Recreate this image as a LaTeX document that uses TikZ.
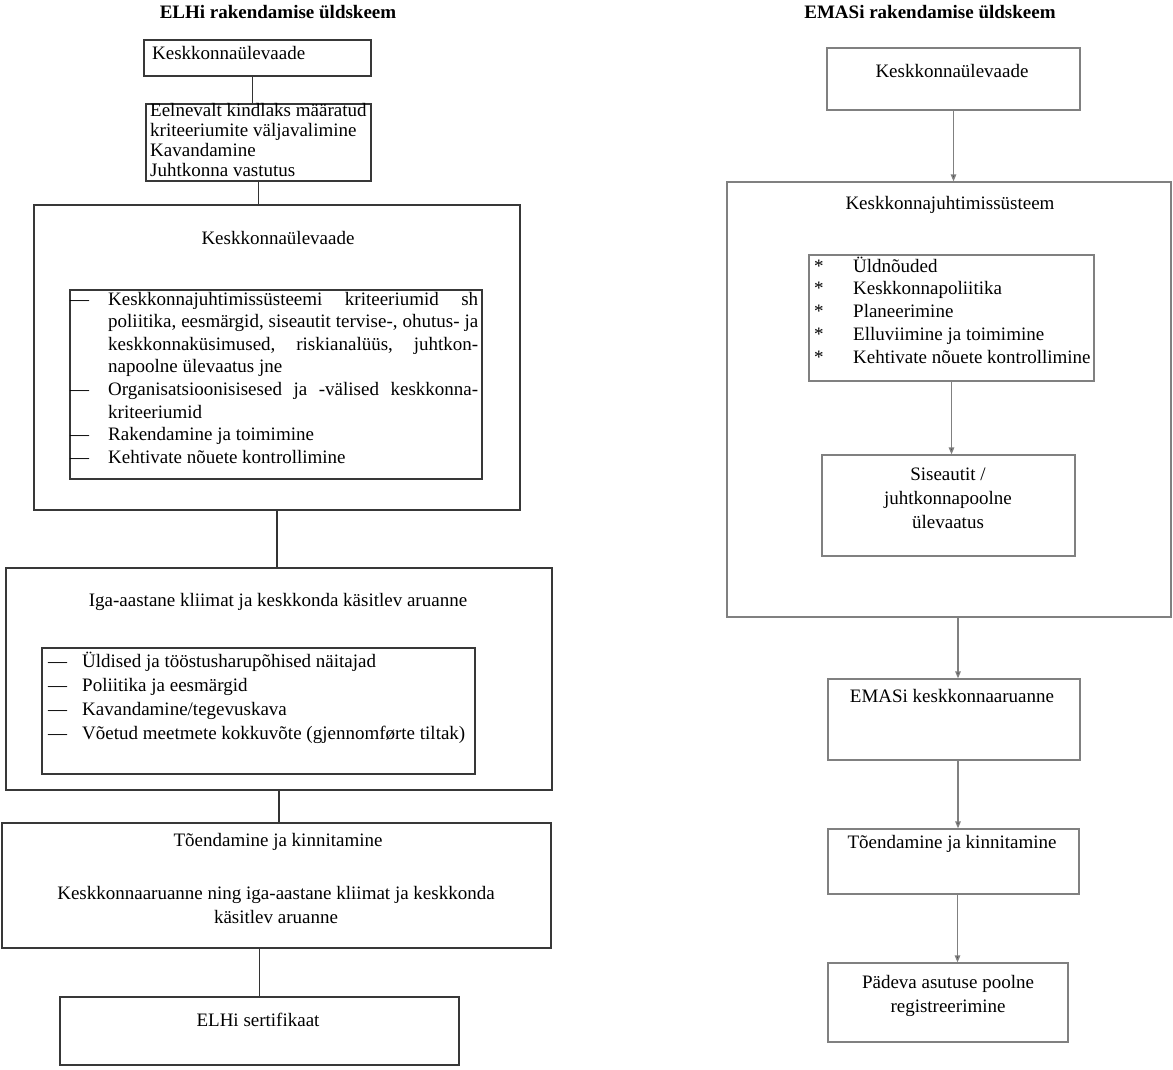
\documentclass[tikz,border=0pt]{standalone}
\usepackage{fontspec}
\setmainfont{Liberation Serif}
\usetikzlibrary{arrows.meta}
\begin{document}
\begin{tikzpicture}[x=1pt, y=-1pt,
    elbox/.style={draw=black!78, line width=1.3pt, inner sep=0pt},
    embox/.style={draw=black!50, line width=1.3pt, inner sep=0pt},
    ellink/.style={draw=black!80, line width=1.4pt},
    emlink/.style={draw=black!50, line width=1.3pt, -{Triangle[length=7pt, width=5.5pt, fill=black!70]}},
    ttl/.style={font=\fontsize{19}{22}\selectfont\bfseries, inner sep=0pt},
    lbl/.style={font=\fontsize{19}{22}\selectfont, inner sep=0pt, text height=13pt, text depth=4pt},
    mlbl/.style={font=\fontsize{19}{24}\selectfont, inner sep=0pt, align=center},
    lst/.style={inner sep=0pt, anchor=north west}
  ]
  \useasboundingbox (0,0) rectangle (1173,1069);
  \node[ttl] (elttl) at (278,12) {ELHi rakendamise üldskeem};
  \node[ttl] (emttl) at (930,12) {EMASi rakendamise üldskeem};
  \foreach \nm/\cx/\cy/\w/\h in {%
    elA/257.5/58/227/36,
    elB/258.5/142.5/225/77,
    elC/277/357.5/486/305,
    elCl/276/384.5/412/189,
    elD/279/679/546/222,
    elDl/258.5/711/433/126,
    elE/276.5/885.5/549/125,
    elF/259.5/1031/399/68%
  }{
    \node[elbox, minimum width=\w, minimum height=\h] (\nm) at (\cx,\cy) {};
  }
  \foreach \nm/\cx/\cy/\w/\h in {%
    emA/953.5/79/253/62,
    emB/949/399.5/444/435,
    emBl/951.5/318/285/126,
    emC/948.5/505.5/253/101,
    emD/954/719.5/252/81,
    emE/953.5/861.5/251/65,
    emF/948/1002.5/240/79%
  }{
    \node[embox, minimum width=\w, minimum height=\h] (\nm) at (\cx,\cy) {};
  }
  \node[lbl, anchor=west] (elAt) at (152,55) {Keskkonnaülevaade};
  \node[lst, anchor=west, font=\fontsize{19}{20}\selectfont, align=left] (elBt) at (150,140)
    {Eelnevalt kindlaks määratud\\kriteeriumite väljavalimine\\Kavandamine\\Juhtkonna vastutus};
  \node[lbl] (elCt) at (278,240) {Keskkonnaülevaade};
  \node[lst, font=\fontsize{19}{22.6}\selectfont] (elClt) at (70,289) {%
    \begin{tabular}{@{}p{38pt}@{}l@{}}
    — & \makebox[370pt][s]{Keskkonnajuhtimissüsteemi kriteeriumid sh}\\
      & \makebox[370pt][s]{poliitika, eesmärgid, siseautit tervise-, ohutus- ja}\\
      & \makebox[370pt][s]{keskkonnaküsimused, riskianalüüs, juhtkon-}\\
      & napoolne ülevaatus jne\\
    — & \makebox[370pt][s]{Organisatsioonisisesed ja -välised keskkonna-}\\
      & kriteeriumid\\
    — & Rakendamine ja toimimine\\
    — & Kehtivate nõuete kontrollimine
    \end{tabular}};
  \node[lbl] (elDt) at (278,602) {Iga-aastane kliimat ja keskkonda käsitlev aruanne};
  \node[lst, font=\fontsize{19}{24}\selectfont] (elDlt) at (48,650) {%
    \begin{tabular}{@{}p{34pt}@{}l@{}}
    — & Üldised ja tööstusharupõhised näitajad\\
    — & Poliitika ja eesmärgid\\
    — & Kavandamine/tegevuskava\\
    — & Võetud meetmete kokkuvõte (gjennomførte tiltak)
    \end{tabular}};
  \node[lbl] (elEt) at (278,842) {Tõendamine ja kinnitamine};
  \node[mlbl] (elEs) at (276,905) {Keskkonnaaruanne ning iga-aastane kliimat ja keskkonda\\käsitlev aruanne};
  \node[lbl] (elFt) at (258,1022) {ELHi sertifikaat};
  \node[lbl] (emAt) at (952,73) {Keskkonnaülevaade};
  \node[lbl] (emBt) at (950,205) {Keskkonnajuhtimissüsteem};
  \node[lst, font=\fontsize{19}{22.75}\selectfont] (emBlt) at (814,256) {%
    \begin{tabular}{@{}p{39pt}@{}l@{}}
    {*} & Üldnõuded\\
    {*} & Keskkonnapoliitika\\
    {*} & Planeerimine\\
    {*} & Elluviimine ja toimimine\\
    {*} & Kehtivate nõuete kontrollimine
    \end{tabular}};
  \node[mlbl] (emCt) at (948,498) {Siseautit /\\juhtkonnapoolne\\ülevaatus};
  \node[lbl] (emDt) at (952,698) {EMASi keskkonnaaruanne};
  \node[lbl] (emEt) at (952,844) {Tõendamine ja kinnitamine};
  \node[mlbl] (emFt) at (948,996) {Pädeva asutuse poolne\\registreerimine};
  \draw[ellink] ([xshift=-5]elA.south) -- ([xshift=-5]elA.south |- elB.north);
  \draw[ellink] (elB.south) -- (elB.south |- elC.north);
  \draw[ellink] (elC.south) -- (elC.south |- elD.north);
  \draw[ellink] (elD.south) -- (elD.south |- elE.north);
  \draw[ellink] (elF.north |- elE.south) -- (elF.north);
  \draw[emlink] (emA.south) -- (emA.south |- emB.north);
  \draw[emlink] (emBl.south) -- (emBl.south |- emC.north);
  \draw[emlink] ([xshift=4]emD.north |- emB.south) -- ([xshift=4]emD.north);
  \draw[emlink] ([xshift=4]emD.south) -- ([xshift=4]emD.south |- emE.north);
  \draw[emlink] ([xshift=4]emE.south) -- ([xshift=4]emE.south |- emF.north);
\end{tikzpicture}
\end{document}
